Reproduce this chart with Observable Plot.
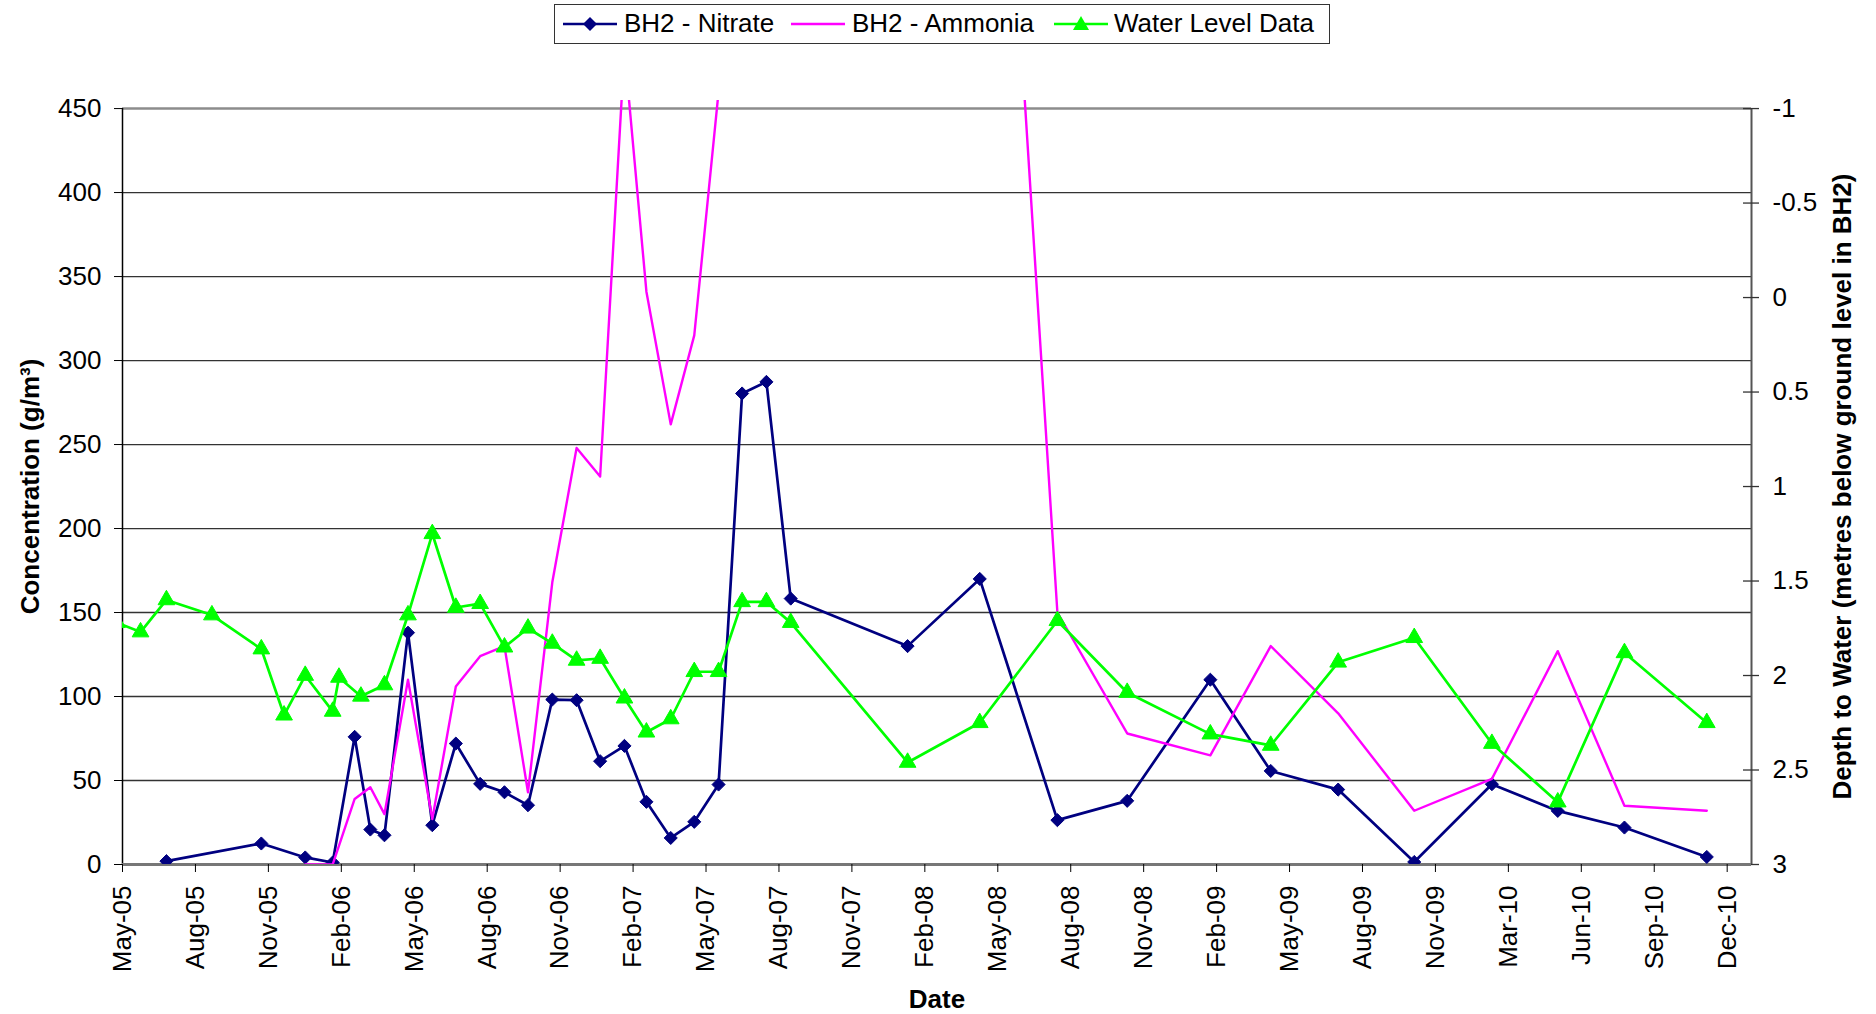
<!DOCTYPE html>
<html>
<head>
<meta charset="utf-8">
<script src="https://cdn.jsdelivr.net/npm/d3@7"></script>
<script src="https://cdn.jsdelivr.net/npm/@observablehq/plot@0.6"></script>
<style>
  html, body { margin: 0; padding: 0; background: #fff; }
  #chart { position: relative; width: 1876px; height: 1014px; font-family: "Liberation Sans", Arial, sans-serif; }
  #legend { position: absolute; left: 554px; top: 4px; width: 776px; height: 40px; box-sizing: border-box;
            border: 1.5px solid #333; background: #fff; font-size: 26px; color: #000; }
  #legend .sw { position: absolute; top: 9px; width: 54px; height: 20px; }
  #legend .lab { position: absolute; top: 0; line-height: 37px; white-space: nowrap; }
</style>
</head>
<body>
<div id="chart">
  <div id="legend">
    <svg class="sw" style="left:8px" viewBox="0 0 54 20"><line x1="0" y1="10" x2="54" y2="10" stroke="#000080" stroke-width="2.7"/><polygon points="27,3 34,10 27,17 20,10" fill="#000080"/></svg>
    <span class="lab" style="left:69px">BH2 - Nitrate</span>
    <svg class="sw" style="left:236px" viewBox="0 0 54 20"><line x1="0" y1="10" x2="54" y2="10" stroke="#ff00ff" stroke-width="2.6"/></svg>
    <span class="lab" style="left:297px">BH2 - Ammonia</span>
    <svg class="sw" style="left:499px" viewBox="0 0 54 20"><line x1="0" y1="10" x2="54" y2="10" stroke="#00ff00" stroke-width="2.7"/><polygon points="27,2 35,16 19,16" fill="#00ff00"/></svg>
    <span class="lab" style="left:559px">Water Level Data</span>
  </div>
</div>
<script>
// Borehole BH2 monitoring record
const nitrateDates = ["2005-06-26","2005-10-25","2005-12-20","2006-01-24","2006-02-21","2006-03-13","2006-03-31","2006-04-30",
  "2006-05-31","2006-06-30","2006-07-31","2006-08-31","2006-09-30","2006-10-31","2006-12-01","2006-12-31",
  "2007-01-31","2007-02-28","2007-03-31","2007-04-30","2007-05-31","2007-06-30","2007-07-31","2007-08-31",
  "2008-01-27","2008-04-28","2008-08-05","2008-11-02","2009-02-16","2009-05-04","2009-07-29","2009-11-03",
  "2010-02-10","2010-05-05","2010-07-29","2010-11-11"];
const nitrateValues = [2, 12.5, 4.2, 1.2, 76, 20.8, 17.4, 138,
  23.4, 72, 48, 43, 35.3, 98.2, 97.8, 61.5,
  70.6, 37.3, 15.8, 25.4, 47.6, 280.4, 287.3, 158.3,
  130, 170, 26.4, 37.9, 110, 55.7, 44.6, 1.5,
  47.8, 31.9, 22, 4.5];

const ammoniaDates = ["2005-12-20","2006-01-24","2006-02-21","2006-03-13","2006-03-31","2006-04-30","2006-05-31","2006-06-30",
  "2006-07-31","2006-08-31","2006-09-30","2006-10-31","2006-12-01","2006-12-31","2007-01-31","2007-02-28",
  "2007-03-31","2007-04-30","2007-05-31","2008-04-28","2008-08-05","2008-11-02","2009-02-16","2009-05-04",
  "2009-07-29","2009-11-03","2010-02-10","2010-05-05","2010-07-29","2010-11-11"];
const ammoniaValues = [0, 0, 39, 46, 30, 110, 27, 106,
  124, 130, 43, 168, 248, 231, 485, 341,
  262, 315, 460, 876, 150, 78, 65, 130,
  90, 32, 51, 127, 35, 32];

// depth to water, metres below ground level
const waterDates = ["2005-04-24","2005-05-24","2005-06-26","2005-08-23","2005-10-25","2005-11-23","2005-12-20",
  "2006-01-24","2006-02-01","2006-03-01","2006-03-31","2006-04-30","2006-05-31","2006-06-30","2006-07-31",
  "2006-08-31","2006-09-30","2006-10-31","2006-12-01","2006-12-31","2007-01-31","2007-02-28","2007-03-31",
  "2007-04-30","2007-05-31","2007-06-30","2007-07-31","2007-08-31","2008-01-27","2008-04-28","2008-08-05",
  "2008-11-02","2009-02-16","2009-05-04","2009-07-29","2009-11-03","2010-02-10","2010-05-05","2010-07-29","2010-11-11"];
const waterDepths = [1.72, 1.77, 1.60, 1.68, 1.86, 2.21, 2.00,
  2.19, 2.01, 2.11, 2.05, 1.68, 1.25, 1.64, 1.62,
  1.85, 1.75, 1.83, 1.92, 1.91, 2.12, 2.30, 2.23,
  1.98, 1.98, 1.61, 1.61, 1.72, 2.46, 2.25, 1.71,
  2.09, 2.31, 2.37, 1.93, 1.80, 2.36, 2.67, 1.88, 2.25];

// axis ticks: date ticks every 93 days from 1 May 2005
const dateTicks = ["2005-05-01","2005-08-02","2005-11-03","2006-02-04","2006-05-08","2006-08-09","2006-11-10",
  "2007-02-11","2007-05-15","2007-08-16","2007-11-17","2008-02-18","2008-05-21","2008-08-22","2008-11-23",
  "2009-02-24","2009-05-28","2009-08-29","2009-11-30","2010-03-03","2010-06-04","2010-09-05","2010-12-07"];
const concTicks = [0, 50, 100, 150, 200, 250, 300, 350, 400, 450];
const depthTicks = [-1, -0.5, 0, 0.5, 1, 1.5, 2, 2.5, 3];
const dateDomain = ["2005-05-01", "2011-01-07"];

const parse = d3.utcParse("%Y-%m-%d");
const rows = (dates, values) => dates.map((d, i) => ({date: parse(d), value: values[i]}));
const nitrate = rows(nitrateDates, nitrateValues);
const ammonia = rows(ammoniaDates, ammoniaValues);
const water = rows(waterDates, waterDepths);

// the secondary (depth) axis runs from -1 at the top to 3 at the bottom,
// sharing the 0–450 concentration range
const concMax = 450, depthTop = -1, depthBottom = 3;
const depthToConc = d => concMax * (depthBottom - d) / (depthBottom - depthTop);
const concToDepth = c => depthBottom - c * (depthBottom - depthTop) / concMax;

const xStart = parse(dateDomain[0]);
const xEnd = parse(dateDomain[1]);
const fmtMonth = d3.utcFormat("%b-%y");

const font = '"Liberation Sans", Arial, sans-serif';

const chart = Plot.plot({
  width: 1876,
  height: 1014,
  marginLeft: 122,
  marginRight: 125,
  marginTop: 100,
  marginBottom: 150,
  style: {fontFamily: font, fontSize: "26px", color: "#000", background: "transparent", overflow: "visible"},
  x: {type: "utc", domain: [xStart, xEnd]},
  y: {domain: [0, 454.8]},
  marks: [
    // gridlines and plot-area edges
    Plot.ruleY(concTicks.slice(1, -1), {stroke: "#333", strokeWidth: 1.3}),
    Plot.ruleY([450], {stroke: "#8c8c8c", strokeWidth: 2.6}),
    Plot.ruleX([xStart], {y1: 0, y2: 450, stroke: "#000", strokeWidth: 1.5}),
    Plot.ruleX([xEnd], {y1: 0, y2: 450, stroke: "#555", strokeWidth: 2}),
    Plot.ruleY(depthTicks, {y: depthToConc, x1: () => xEnd, x2: () => xEnd, insetLeft: -8, insetRight: -8, stroke: "#333", strokeWidth: 1.3}),
    Plot.ruleY([0], {stroke: "#777", strokeWidth: 3}),

    // axes
    Plot.axisY(concTicks, {anchor: "left", tickSize: 8, tickPadding: 13, fontSize: 26, label: null, stroke: "#000"}),
    Plot.axisY(depthTicks.map(depthToConc), {anchor: "right", tickSize: 0, tickPadding: 21, fontSize: 26, label: null,
      tickFormat: v => String(Math.round(concToDepth(v) * 100) / 100)}),
    Plot.axisX(dateTicks.map(parse), {anchor: "bottom", tickSize: 8, tickPadding: 13, tickRotate: -90, fontSize: 26,
      label: null, tickFormat: fmtMonth, stroke: "#000"}),

    // series
    Plot.line(nitrate, {x: "date", y: "value", stroke: "#000080", strokeWidth: 2.7, clip: true}),
    Plot.dot(nitrate, {x: "date", y: "value", symbol: "diamond2", r: 5.9, fill: "#000080", stroke: "#000080", strokeWidth: 1, clip: true}),
    Plot.line(ammonia, {x: "date", y: "value", stroke: "#ff00ff", strokeWidth: 2.4, clip: true}),
    Plot.line(water, {x: "date", y: d => depthToConc(d.value), stroke: "#00ff00", strokeWidth: 2.7, clip: true}),
    Plot.dot(water, {x: "date", y: d => depthToConc(d.value), symbol: "triangle", r: 6.2, fill: "#00ff00", stroke: "#00ff00", strokeWidth: 1, clip: true}),

    // axis titles
    Plot.text(["Concentration (g/m³)"], {text: d => d, frameAnchor: "left", textAnchor: "middle", lineAnchor: "middle",
      dx: -92, dy: 4, rotate: -90, fontSize: 26, fontWeight: "bold", fill: "#000"}),
    Plot.text(["Depth to Water (metres below ground level in BH2)"], {text: d => d, frameAnchor: "right", textAnchor: "middle",
      lineAnchor: "middle", dx: 91, dy: 4, rotate: -90, fontSize: 26, fontWeight: "bold", fill: "#000"}),
    Plot.text(["Date"], {text: d => d, frameAnchor: "bottom", textAnchor: "middle", lineAnchor: "middle", dy: 135,
      fontSize: 26, fontWeight: "bold", fill: "#000"})
  ]
});

chart.style.position = "absolute";
chart.style.left = "0";
chart.style.top = "0";
const holder = document.getElementById("chart");
holder.insertBefore(chart, holder.firstChild);
</script>
</body>
</html>
